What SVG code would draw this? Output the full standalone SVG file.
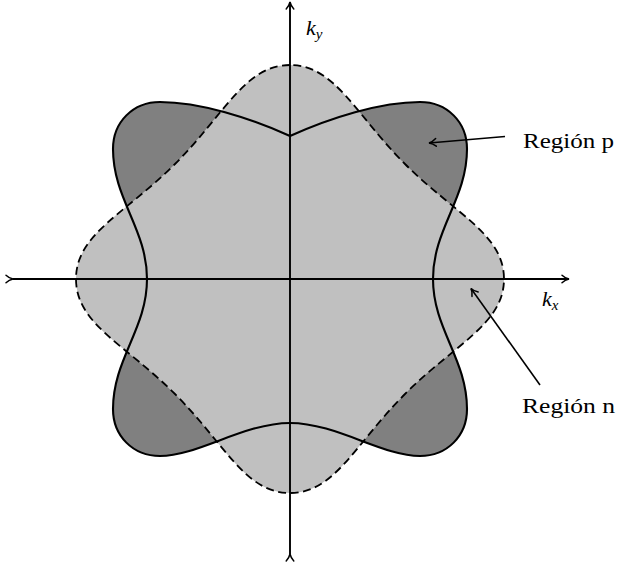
<svg xmlns="http://www.w3.org/2000/svg" width="620" height="563" viewBox="0 0 620 563">
  <defs>
    <style>
      .outer { fill: #808080; stroke: none; }
      .inner { fill: #c0c0c0; stroke: none; }
      .solid { fill: none; stroke: #000; stroke-width: 2.1; stroke-linejoin: miter; }
      .dashed { fill: none; stroke: #000; stroke-width: 1.8; stroke-dasharray: 8 4.5; }
      .axis { fill: none; stroke: #000; stroke-width: 1.9; }
      .pointer { fill: none; stroke: #000; stroke-width: 1.6; }
      .lbl { font-family: 'Liberation Serif', 'Times New Roman', serif; font-size: 21px; fill: #000; }
      .math { font-family: 'Liberation Serif', 'Times New Roman', serif; font-style: italic; fill: #000; }
    </style>
    <marker id="arr" viewBox="-9 -5 11 10" refX="0" refY="0" markerWidth="11" markerHeight="10" markerUnits="userSpaceOnUse" orient="auto">
      <path d="M -7,-3.8 C -4.8,-1.7 -2.2,-0.5 0,0 C -2.2,0.5 -4.8,1.7 -7,3.8" fill="none" stroke="#000" stroke-width="1.5" stroke-linecap="round"/>
    </marker>
  </defs>

  <g id="solid-region">
    <path class="outer" d="M 290,136 C 250,118 200,102 160,102 C 133,102 113,122 113,149 C 113,199 147,229 147,279 C 147,329 113,359 113,409 C 113,436 133,456 160,456 C 198,456 244,423 290,423 C 336,423 382,456 420,456 C 447,456 467,436 467,409 C 467,359 433,329 433,279 C 433,229 467,199 467,149 C 467,122 447,102 420,102 C 380,102 330,118 290,136 Z"/>
  </g>
  <g id="dashed-region">
    <path class="inner" d="M 290,65 C 245,65 225,114 175,164 C 125,214 76,234 76,279 C 76,324 125,344 175,394 C 225,444 245,493 290,493 C 335,493 355,444 405,394 C 455,344 504,324 504,279 C 504,234 455,214 405,164 C 355,114 335,65 290,65 Z"/>
  </g>

  <g id="axes">
    <line class="axis" x1="13" y1="279" x2="569" y2="279" marker-start="url(#arr)" marker-end="url(#arr)"/>
    <line class="axis" x1="290" y1="554" x2="290" y2="2" marker-start="url(#arr)" marker-end="url(#arr)"/>
  </g>

  <g id="solid-curve">
    <path class="solid" d="M 290,136 C 250,118 200,102 160,102 C 133,102 113,122 113,149 C 113,199 147,229 147,279 C 147,329 113,359 113,409 C 113,436 133,456 160,456 C 198,456 244,423 290,423 C 336,423 382,456 420,456 C 447,456 467,436 467,409 C 467,359 433,329 433,279 C 433,229 467,199 467,149 C 467,122 447,102 420,102 C 380,102 330,118 290,136 Z"/>
  </g>
  <g id="dashed-curve">
    <path class="dashed" d="M 290,65 C 245,65 225,114 175,164 C 125,214 76,234 76,279 C 76,324 125,344 175,394 C 225,444 245,493 290,493 C 335,493 355,444 405,394 C 455,344 504,324 504,279 C 504,234 455,214 405,164 C 355,114 335,65 290,65 Z"/>
  </g>

  <g id="connectors">
    <line class="pointer" x1="505" y1="136.5" x2="429" y2="143" marker-end="url(#arr)"/>
    <line class="pointer" x1="540" y1="385" x2="471" y2="288.5" marker-end="url(#arr)"/>
  </g>

  <g id="ky-label">
    <text class="math" x="306" y="35" font-size="22">k<tspan font-size="15" dy="4">y</tspan></text>
  </g>
  <g id="kx-label">
    <text class="math" x="542" y="306" font-size="22">k<tspan font-size="15" dy="4">x</tspan></text>
  </g>
  <g id="region-p-label">
    <text class="lbl" x="523" y="148" textLength="91" lengthAdjust="spacingAndGlyphs">Región p</text>
  </g>
  <g id="region-n-label">
    <text class="lbl" x="522" y="413" textLength="93" lengthAdjust="spacingAndGlyphs">Región n</text>
  </g>
</svg>
